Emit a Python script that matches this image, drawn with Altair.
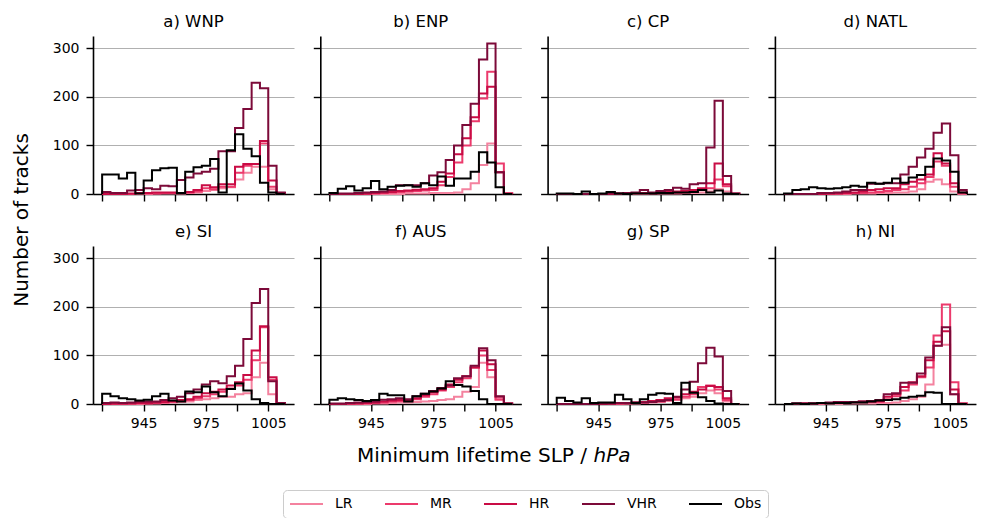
import altair as alt
import pandas as pd

# bin edges (hPa) and series
edges = [925 + 4 * k for k in range(23)]
series = ["LR", "MR", "HR", "VHR", "Obs"]
colors = ["#f4829f", "#ec3a6c", "#c90c45", "#7c0a39", "#000000"]
regions = ["WNP", "ENP", "CP", "NATL", "SI", "AUS", "SP", "NI"]
titles = ["a) WNP", "b) ENP", "c) CP", "d) NATL", "e) SI", "f) AUS", "g) SP", "h) NI"]
xticks = [925, 945, 960, 975, 990, 1005]
xlabels = [945, 975, 1005]
yticks = [0, 100, 200, 300]

WNP = {
    "LR":  [0, 0, 0, 0, 0, 0, 1, 1, 1, 1, 2, 3, 6, 8, 12, 14, 30, 44, 56, 56, 10, 1],
    "MR":  [0, 0, 0, 0, 1, 1, 1, 2, 2, 2, 3, 5, 12, 10, 15, 15, 44, 58, 62, 104, 15, 1],
    "HR":  [0, 0, 0, 1, 2, 2, 3, 3, 3, 2, 4, 8, 18, 14, 20, 20, 56, 62, 62, 109, 28, 2],
    "VHR": [4, 2, 2, 7, 8, 12, 10, 17, 16, 29, 34, 42, 46, 52, 88, 88, 136, 175, 229, 218, 58, 3],
    "Obs": [40, 40, 32, 44, 1, 28, 49, 53, 54, 2, 46, 55, 58, 72, 3, 90, 123, 93, 78, 23, 3, 0],
}
ENP = {
    "LR":  [0, 0, 0, 0, 0, 0, 0, 0, 0, 1, 1, 1, 2, 2, 2, 3, 10, 22, 60, 104, 45, 1],
    "MR":  [0, 0, 0, 0, 0, 1, 2, 3, 4, 5, 6, 7, 8, 18, 35, 65, 100, 150, 197, 252, 63, 1],
    "HR":  [0, 0, 0, 0, 1, 2, 3, 4, 6, 7, 9, 10, 12, 25, 42, 82, 115, 158, 207, 221, 45, 1],
    "VHR": [0, 1, 1, 2, 3, 4, 5, 8, 18, 18, 18, 22, 38, 45, 70, 100, 142, 186, 277, 310, 45, 0],
    "Obs": [2, 11, 16, 7, 12, 27, 10, 15, 17, 18, 15, 22, 18, 36, 17, 32, 32, 46, 86, 65, 14, 0],
}
CP = {
    "LR":  [0, 0, 0, 0, 0, 0, 0, 0, 0, 0, 0, 1, 1, 1, 1, 2, 2, 3, 5, 10, 5, 0],
    "MR":  [0, 0, 0, 0, 0, 0, 0, 0, 1, 1, 1, 1, 2, 2, 2, 3, 5, 8, 12, 30, 16, 0],
    "HR":  [0, 0, 0, 0, 0, 0, 0, 1, 1, 2, 2, 2, 3, 4, 5, 6, 8, 12, 22, 63, 20, 1],
    "VHR": [0, 0, 0, 0, 0, 0, 1, 1, 2, 3, 8, 3, 6, 8, 13, 11, 20, 22, 96, 192, 37, 1],
    "Obs": [1, 1, 0, 5, 0, 1, 4, 1, 0, 1, 1, 1, 2, 2, 3, 3, 4, 8, 3, 7, 1, 0],
}
NATL = {
    "LR":  [0, 0, 0, 0, 0, 0, 0, 0, 1, 1, 1, 2, 2, 3, 3, 5, 10, 25, 30, 20, 5, 0],
    "MR":  [0, 0, 0, 0, 0, 0, 1, 1, 2, 2, 3, 4, 6, 8, 10, 15, 22, 35, 67, 58, 15, 1],
    "HR":  [0, 0, 0, 0, 0, 1, 1, 2, 3, 5, 8, 10, 12, 12, 20, 25, 30, 40, 84, 63, 22, 3],
    "VHR": [0, 0, 0, 0, 2, 2, 3, 5, 8, 8, 21, 21, 22, 22, 40, 56, 75, 93, 126, 145, 80, 8],
    "Obs": [1, 8, 10, 14, 12, 11, 12, 14, 17, 15, 23, 21, 23, 32, 23, 34, 39, 56, 73, 69, 46, 3],
}
SI = {
    "LR":  [0, 0, 0, 0, 0, 1, 1, 2, 3, 4, 5, 8, 10, 12, 15, 15, 20, 22, 55, 85, 20, 1],
    "MR":  [0, 0, 0, 1, 1, 1, 2, 3, 4, 6, 8, 12, 16, 20, 25, 32, 38, 50, 90, 158, 50, 1],
    "HR":  [0, 1, 1, 1, 2, 2, 3, 4, 6, 8, 10, 15, 22, 25, 30, 38, 45, 60, 110, 160, 55, 2],
    "VHR": [2, 3, 2, 3, 5, 5, 5, 8, 12, 15, 22, 30, 40, 47, 43, 57, 79, 134, 208, 237, 47, 2],
    "Obs": [21, 16, 12, 10, 7, 9, 16, 21, 7, 5, 26, 24, 36, 24, 16, 31, 42, 28, 10, 2, 0, 0],
}
AUS = {
    "LR":  [0, 0, 0, 0, 0, 1, 1, 2, 3, 3, 4, 5, 6, 8, 10, 15, 25, 35, 85, 55, 8, 0],
    "MR":  [0, 0, 0, 1, 1, 2, 3, 5, 6, 7, 10, 15, 20, 28, 35, 45, 53, 75, 100, 70, 10, 1],
    "HR":  [0, 0, 1, 1, 2, 3, 5, 7, 8, 8, 12, 18, 24, 30, 40, 50, 57, 75, 110, 82, 15, 1],
    "VHR": [1, 1, 2, 3, 4, 5, 9, 10, 12, 10, 16, 21, 27, 33, 38, 53, 57, 79, 115, 90, 16, 1],
    "Obs": [9, 12, 10, 8, 6, 8, 21, 18, 18, 5, 16, 21, 26, 32, 47, 39, 36, 27, 10, 0, 0, 0],
}
SP = {
    "LR":  [0, 0, 0, 0, 0, 0, 0, 0, 1, 1, 2, 3, 4, 6, 8, 12, 15, 22, 28, 22, 5, 0],
    "MR":  [0, 0, 0, 0, 0, 0, 0, 1, 1, 2, 3, 4, 5, 8, 10, 15, 20, 35, 38, 30, 8, 0],
    "HR":  [0, 0, 0, 0, 0, 0, 1, 1, 2, 3, 4, 6, 8, 12, 14, 20, 25, 30, 37, 35, 12, 0],
    "VHR": [0, 0, 0, 0, 0, 1, 1, 2, 2, 3, 3, 4, 6, 8, 15, 30, 46, 84, 116, 98, 27, 0],
    "Obs": [13, 6, 3, 12, 2, 3, 3, 19, 10, 2, 10, 19, 22, 21, 2, 44, 23, 14, 6, 1, 0, 0],
}
NI = {
    "LR":  [0, 0, 0, 0, 0, 0, 0, 1, 1, 1, 1, 2, 2, 3, 6, 10, 15, 40, 120, 122, 20, 0],
    "MR":  [0, 0, 1, 1, 1, 2, 3, 3, 4, 4, 4, 4, 10, 16, 28, 40, 55, 75, 141, 205, 45, 1],
    "HR":  [0, 1, 1, 1, 2, 2, 3, 3, 4, 5, 5, 6, 15, 20, 35, 45, 57, 90, 128, 150, 30, 1],
    "VHR": [0, 1, 1, 1, 2, 3, 4, 4, 4, 5, 6, 8, 20, 22, 44, 44, 63, 96, 120, 158, 20, 0],
    "Obs": [0, 1, 0, 1, 2, 1, 2, 2, 3, 3, 5, 7, 8, 10, 13, 15, 17, 24, 23, 0, 0, 0],
}
counts_by_region = [WNP, ENP, CP, NATL, SI, AUS, SP, NI]

FONT = "DejaVu Sans"
PW, PH = 201, 158


def step_frame(counts):
    rows = []
    for s in series:
        v = counts[s]
        rows.append({"slp": edges[0], "n": 0, "i": 0, "series": s})
        for k, val in enumerate(v):
            rows.append({"slp": edges[k], "n": val, "i": k + 1, "series": s})
        rows.append({"slp": edges[len(v)], "n": 0, "i": len(v) + 1, "series": s})
    return pd.DataFrame(rows)


legend = alt.Legend(
    orient="none", legendX=190, legendY=454, direction="horizontal", title=None,
    symbolType="stroke", symbolSize=1089, symbolStrokeWidth=2, clipHeight=16,
    labelFontSize=14, labelFont=FONT, labelColor="black", labelOffset=11,
    columnPadding=31, padding=6, strokeColor="#cccccc", cornerRadius=4,
    fillColor="white",
)


def panel(idx):
    col, row = idx % 4, idx // 4
    df = step_frame(counts_by_region[idx])
    x_axis = alt.Axis(
        values=xticks, labels=(row == 1), grid=False, title=None, format="d",
        labelExpr="indexof([945, 975, 1005], datum.value) >= 0 ? datum.label : ''",
        labelFont=FONT, labelFontSize=14, labelColor="black", labelPadding=5,
        tickSize=7, tickColor="black", tickWidth=1.4,
        domainColor="black", domainWidth=1.6,
    )
    y_axis = alt.Axis(
        values=yticks, labels=(col == 0), grid=True, gridColor="#b0b0b0", gridWidth=1.2,
        title=None, labelFont=FONT, labelFontSize=14, labelColor="black", labelPadding=7,
        tickSize=7, tickColor="black", tickWidth=1.4,
        domainColor="black", domainWidth=1.6,
    )
    lines = alt.Chart(df).mark_line(interpolate="step-after", strokeWidth=2).encode(
        x=alt.X("slp:Q", scale=alt.Scale(domain=[920.6, 1017.4], nice=False, zero=False), axis=x_axis),
        y=alt.Y("n:Q", scale=alt.Scale(domain=[0, 325.5], nice=False), axis=y_axis),
        color=alt.Color("series:N", scale=alt.Scale(domain=series, range=colors), legend=legend),
        order="i:Q",
    )
    layers = [lines]
    if idx == 0:
        ytitle = alt.Chart(pd.DataFrame({"t": ["Number of tracks"]})).mark_text(
            font=FONT, fontSize=20, angle=270, align="center", baseline="alphabetic", color="black"
        ).encode(x=alt.value(-65), y=alt.value(184), text="t:N")
        layers.append(ytitle)
    if idx == 4:
        xt1 = alt.Chart(pd.DataFrame({"t": ["Minimum lifetime SLP /"]})).mark_text(
            font=FONT, fontSize=20, align="right", baseline="alphabetic", color="black"
        ).encode(x=alt.value(494), y=alt.value(216), text="t:N")
        xt2 = alt.Chart(pd.DataFrame({"t": ["hPa"]})).mark_text(
            font=FONT, fontSize=20, fontStyle="italic", align="left", baseline="alphabetic", color="black"
        ).encode(x=alt.value(500.5), y=alt.value(216), text="t:N")
        layers += [xt1, xt2]
    return alt.layer(*layers).properties(
        width=PW, height=PH,
        title=alt.TitleParams(titles[idx], font=FONT, fontSize=16.5, fontWeight="normal",
                              color="black", baseline="alphabetic", offset=-7, frame="group"),
    )


panels = [panel(i) for i in range(8)]
chart = alt.concat(
    *panels, columns=4, spacing={"row": 52, "column": 26.3}, bounds="flush"
).properties(
    padding={"left": 4, "top": 5, "right": 5, "bottom": 0}
).configure_view(stroke=None)

chart.save("out.html", embed_options={"renderer": "svg", "actions": False})
